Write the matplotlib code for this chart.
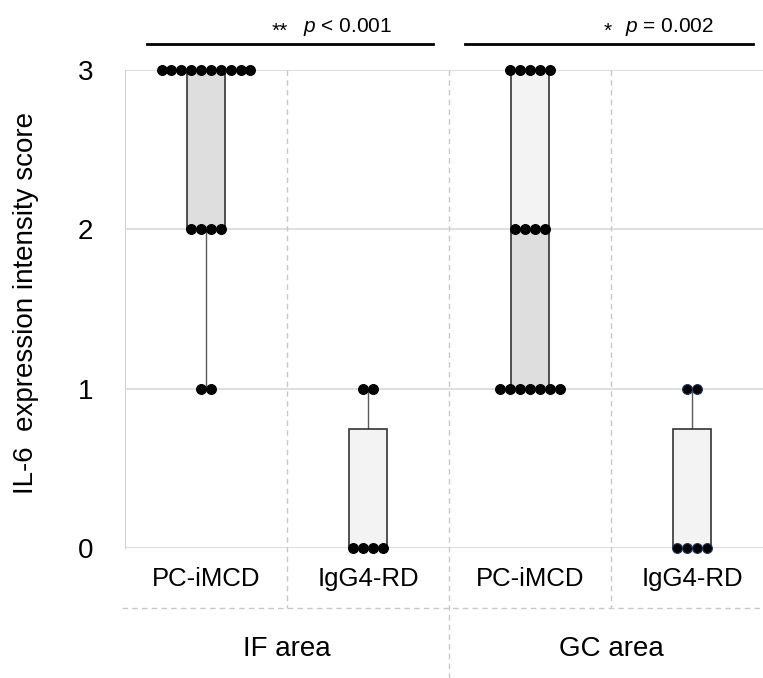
import numpy as np
import matplotlib.pyplot as plt

plt.rcParams['font.family'] = ['Liberation Sans', 'DejaVu Sans']
plt.rcParams['mathtext.fontset'] = 'custom'
plt.rcParams['mathtext.it'] = 'Liberation Sans:italic'
plt.rcParams['mathtext.rm'] = 'Liberation Sans'

# data: number of cases at each score (0, 1, 2, 3)
scores = [0, 1, 2, 3]
groups = ['PC-iMCD', 'IgG4-RD', 'PC-iMCD', 'IgG4-RD']
areas = ['IF area', 'GC area']
if_pc = [0, 2, 4, 10]
if_igg = [4, 2, 0, 0]
gc_pc = [0, 7, 4, 5]
gc_igg = [4, 2, 0, 0]
stars = ['**', '*']
pvals = ['$p$ < 0.001', '$p$ = 0.002']

counts = [if_pc, if_igg, gc_pc, gc_igg]
data = [np.repeat(scores, c) for c in counts]

dark = '#dfdedf'
light = '#f3f3f3'

fig = plt.figure(figsize=(7.63, 6.78), dpi=100)
ax = fig.add_axes([125 / 763, 130 / 678, 638 / 763, 478 / 678])

bw = 0.235
for i, vals in enumerate(data):
    q1, med, q3 = np.percentile(vals, [25, 50, 75])
    mn, mx = vals.min(), vals.max()
    # whiskers
    ax.plot([i, i], [mn, q1], color='#595959', lw=1, zorder=2)
    ax.plot([i, i], [q3, mx], color='#595959', lw=1, zorder=2)
    # box halves
    ax.bar(i, med - q1, bottom=q1, width=bw, color=dark, zorder=3)
    ax.bar(i, q3 - med, bottom=med, width=bw, color=light, zorder=3)
    ax.bar(i, q3 - q1, bottom=q1, width=bw, fill=False, edgecolor='#333333',
           lw=1.2, zorder=4)
    # dots
    edge = '#1f3864' if i == 3 else 'black'
    for v, n in zip(scores, counts[i]):
        if n == 0:
            continue
        xs = i + (np.arange(n) - (n - 1) / 2) * 0.061
        ax.scatter(xs, [v] * n, s=50, color='black', edgecolors=edge,
                   linewidths=0.8, zorder=6, clip_on=False)

ax.set_xlim(-0.5, 3.438)
ax.set_ylim(0, 3)
ax.set_yticks([0, 1, 2, 3])
ax.set_xticks([])
ax.tick_params(axis='y', length=0, pad=23, labelsize=20)
ax.yaxis.grid(True, color='#d9d9d9', lw=1.2)
ax.set_axisbelow(True)
for s in ['top', 'right', 'bottom']:
    ax.spines[s].set_visible(False)
ax.spines['left'].set_color('#d0d0d0')
fig.text(26 / 763, 0.553, 'IL-6  expression intensity score', rotation=90,
         ha='center', va='center', fontsize=20)

# separators
for x, y0 in [(0.5, -0.377), (1.5, -0.82), (2.5, -0.377)]:
    ax.plot([x, x], [3, y0], color='#c8c8c8', lw=1, ls=(0, (4, 3)),
            clip_on=False, zorder=1)
ax.plot([-0.52, 3.438], [-0.377, -0.377], color='#c8c8c8', lw=1,
        ls=(0, (4, 3)), clip_on=False)

for i, g in enumerate(groups):
    ax.text(i, -0.195, g, ha='center', va='center', fontsize=18.5)
for j, a in enumerate(areas):
    ax.text(0.5 + 2 * j, -0.634, a, ha='center', va='center', fontsize=20)

# significance brackets
brackets = [(-0.364, 1.401), (1.599, 3.377)]
star_x = [0.457, 2.48]
p_x = [0.599, 2.586]
for (x0, x1), st, sx, p, px in zip(brackets, stars, star_x, pvals, p_x):
    ax.plot([x0, x1], [3.164, 3.164], color='black', lw=2, clip_on=False)
    ax.text(sx, 3.208, st, ha='center', va='baseline', fontsize=15)
    ax.text(px, 3.239, p, ha='left', va='baseline', fontsize=15)

fig.savefig('out.png', dpi=100)
